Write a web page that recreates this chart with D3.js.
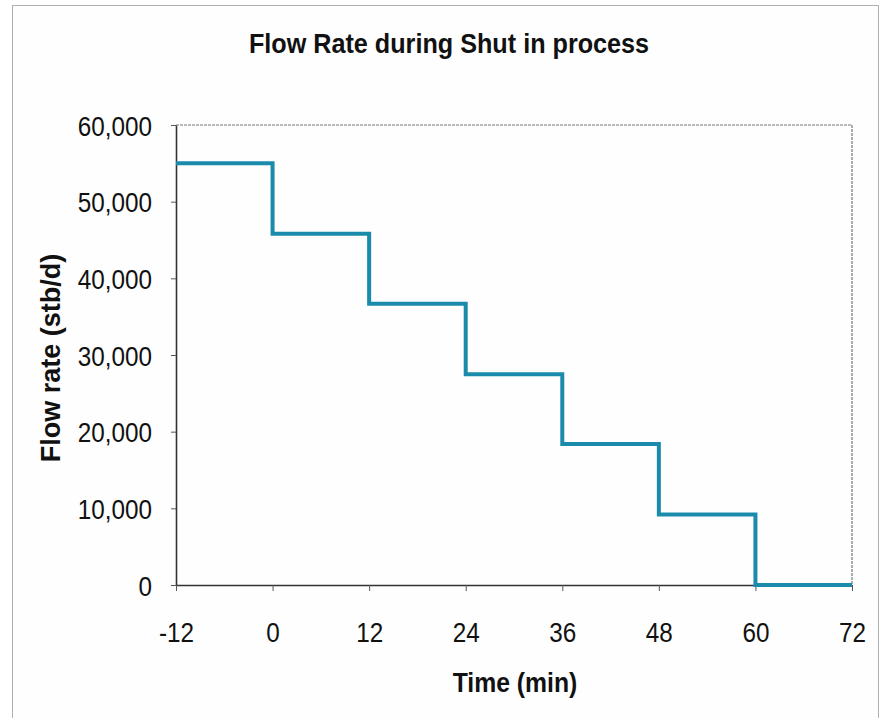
<!DOCTYPE html>
<html><head><meta charset="utf-8">
<script src="https://cdn.jsdelivr.net/npm/d3@7"></script>
<style>body{margin:0;background:#fff}svg{display:block}</style>
</head><body>
<svg id="c" width="883" height="718"></svg>
<script>
const stepStart = [-12, 0, 12, 24, 36, 48, 60];
const flowRate = [55000, 45800, 36700, 27500, 18400, 9200, 0];
const endTime = 72;
const xTicks = [-12, 0, 12, 24, 36, 48, 60, 72];
const yTicks = [0, 10000, 20000, 30000, 40000, 50000, 60000];
const title = "Flow Rate during Shut in process";
const xLabel = "Time (min)";
const yLabel = "Flow rate (stb/d)";

const svg = d3.select("#c");
const font = "'Liberation Sans', Arial, sans-serif";
const L = 176, R = 852, T = 125, B = 585;
const x = d3.scaleLinear().domain([-12, 72]).range([L, R]);
const y = d3.scaleLinear().domain([0, 60000]).range([B, T]);

svg.append("rect").attr("x", 12.5).attr("y", 5.5).attr("width", 866).attr("height", 730)
  .attr("fill", "#fefefe").attr("stroke", "#b0b0b0").attr("stroke-width", 1);

// plot frame: top & right light
svg.append("line").attr("x1", L).attr("x2", R).attr("y1", T).attr("y2", T)
  .attr("stroke", "#777").attr("stroke-width", 1.2).attr("stroke-dasharray", "3,1");
svg.append("line").attr("x1", R).attr("x2", R).attr("y1", T).attr("y2", B)
  .attr("stroke", "#777").attr("stroke-width", 1.2).attr("stroke-dasharray", "3,1");

const yAxis = svg.append("g").attr("transform", `translate(${L},0)`)
  .call(d3.axisLeft(y).tickValues(yTicks).tickSize(5).tickSizeOuter(0).tickPadding(19)
    .tickFormat(d3.format(",")));
const xAxis = svg.append("g").attr("transform", `translate(0,${B})`)
  .call(d3.axisBottom(x).tickValues(xTicks).tickSize(6).tickSizeOuter(0).tickPadding(0)
    .tickFormat(d => String(d)));
[yAxis, xAxis].forEach(g => {
  g.select(".domain").attr("stroke", "#333").attr("stroke-width", 1.6);
  g.selectAll(".tick line").attr("stroke", "#555").attr("stroke-width", 1);
  g.selectAll("text").attr("fill", "#111").style("font-family", font).style("font-size", "27px");
});
yAxis.selectAll(".tick text").attr("dy", "0.38em")
  .each(function(){
    const t = d3.select(this);
    const xx = +t.attr("x");
    t.attr("x", xx / 0.9).attr("transform", "scale(0.9,1)");
  });
xAxis.selectAll(".tick text").attr("dy", 0).attr("y", 57).attr("x", 0)
  .attr("transform", "scale(0.9,1)");

// step line
const pts = stepStart.map((t, i) => [t, flowRate[i]]);
pts.push([endTime, flowRate[flowRate.length - 1]]);
const line = d3.line().x(d => x(d[0])).y(d => y(d[1])).curve(d3.curveStepAfter);
svg.append("path").datum(pts).attr("d", line).attr("fill", "none")
  .attr("stroke", "#1b8bab").attr("stroke-width", 4).attr("stroke-linejoin", "miter");

svg.append("text").attr("transform", "translate(449,53) scale(0.9,1)")
  .attr("text-anchor", "middle").style("font-family", font).style("font-weight", "bold")
  .style("font-size", "28px").attr("fill", "#111").text(title);
svg.append("text").attr("transform", "translate(515,692) scale(0.9,1)")
  .attr("text-anchor", "middle").style("font-family", font).style("font-weight", "bold")
  .style("font-size", "27.5px").attr("fill", "#111").text(xLabel);
svg.append("text").attr("transform", "translate(60,358) rotate(-90)")
  .attr("text-anchor", "middle").style("font-family", font).style("font-weight", "bold")
  .style("font-size", "27px").attr("fill", "#111").text(yLabel);
</script>
</body></html>
